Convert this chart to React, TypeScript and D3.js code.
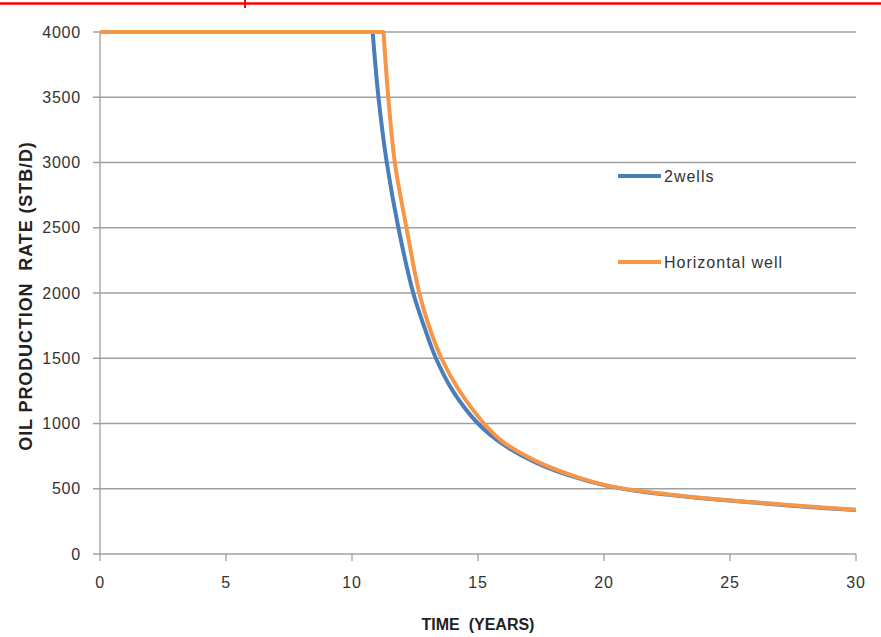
import React from "react";
import * as d3 from "d3";

const xTicks = [0, 5, 10, 15, 20, 25, 30];
const yTicks = [0, 500, 1000, 1500, 2000, 2500, 3000, 3500, 4000];

const twoWellsT = [0, 10.82, 11.05, 11.38, 11.84, 12.43, 12.85, 13.33, 14.0, 15.0, 16.0, 17.3, 18.65, 20.0, 21.3, 22.5, 24.0, 26.2, 28.0, 30.0];
const twoWellsQ = [4000, 4000, 3500, 3000, 2500, 2000, 1750, 1500, 1250, 1000, 840, 700, 600, 528, 482, 455, 425, 390, 362, 337];

const horizT = [0, 11.25, 11.44, 11.7, 12.16, 12.67, 13.05, 13.55, 14.2, 15.24, 16.0, 17.33, 18.65, 20.0, 21.3, 22.5, 24.0, 26.2, 28.0, 30.0];
const horizQ = [4000, 4000, 3500, 3000, 2500, 2000, 1750, 1500, 1270, 1000, 858, 710, 608, 530, 486, 458, 428, 393, 365, 340];

const seriesNames = ["2wells", "Horizontal well"];
const colors = ["#4A7EBB", "#F79646"];

export default function App() {
  const W = 881, H = 637;
  const x = d3.scaleLinear().domain([0, 30]).range([100, 856]);
  const y = d3.scaleLinear().domain([0, 4000]).range([554, 32]);
  const flat = d3.line<[number, number]>().x(d => x(d[0])).y(d => y(d[1]));
  const curve = d3.line<[number, number]>().x(d => x(d[0])).y(d => y(d[1])).curve(d3.curveCatmullRom.alpha(0.5));
  const build = (ts: number[], qs: number[]) => {
    const pts = ts.map((t, i) => [t, qs[i]] as [number, number]);
    const a = flat(pts.slice(0, 2)) || "";
    const b = (curve(pts.slice(1)) || "").replace(/^M[^C]*?(?=C)/, "");
    return a + b;
  };
  const font = "'Liberation Sans', Arial, sans-serif";
  const grid = "#a0a0a0";
  return (
    <svg width={W} height={H} style={{ position: "absolute", left: 0, top: 0, background: "#fff" }} fontFamily={font}>
      <rect x={0} y={0} width={W} height={H} fill="#fff" />
      <line x1={0} x2={W} y1={3.5} y2={3.5} stroke="#ff0000" strokeWidth={2.5} />
      <line x1={245} x2={245} y1={0} y2={8} stroke="#ff0000" strokeWidth={2} />
      {yTicks.map(v => (
        <g key={v}>
          <line x1={93} x2={856} y1={y(v)} y2={y(v)} stroke={grid} strokeWidth={1.3} />
          <text x={81} y={y(v)} dy="0.35em" textAnchor="end" fontSize={16} letterSpacing={0.8} fill="#333">{v}</text>
        </g>
      ))}
      <line x1={100} x2={100} y1={32} y2={554} stroke={grid} strokeWidth={1.3} />
      {xTicks.map(v => (
        <g key={v}>
          <line x1={x(v)} x2={x(v)} y1={554} y2={561} stroke={grid} strokeWidth={1.3} />
          <text x={x(v)} y={588} textAnchor="middle" fontSize={16} letterSpacing={0.8} fill="#333">{v}</text>
        </g>
      ))}
      <path d={build(twoWellsT, twoWellsQ)} fill="none" stroke={colors[0]} strokeWidth={4} strokeLinejoin="round" />
      <path d={build(horizT, horizQ)} fill="none" stroke={colors[1]} strokeWidth={4} strokeLinejoin="round" />
      {seriesNames.map((n, i) => (
        <g key={n}>
          <line x1={618} x2={661} y1={176 + i * 86} y2={176 + i * 86} stroke={colors[i]} strokeWidth={4} />
          <text x={664} y={176 + i * 86} dy="0.35em" fontSize={16} letterSpacing={1} fill="#333">{n}</text>
        </g>
      ))}
      <text x={478} y={630} textAnchor="middle" fontSize={16} fontWeight="bold" fill="#222" xmlSpace="preserve">TIME  (YEARS)</text>
      <text transform={`translate(32,${296}) rotate(-90)`} textAnchor="middle" fontSize={18} fontWeight="bold" letterSpacing={0.9} fill="#222" xmlSpace="preserve">OIL PRODUCTION  RATE (STB/D)</text>
    </svg>
  );
}
